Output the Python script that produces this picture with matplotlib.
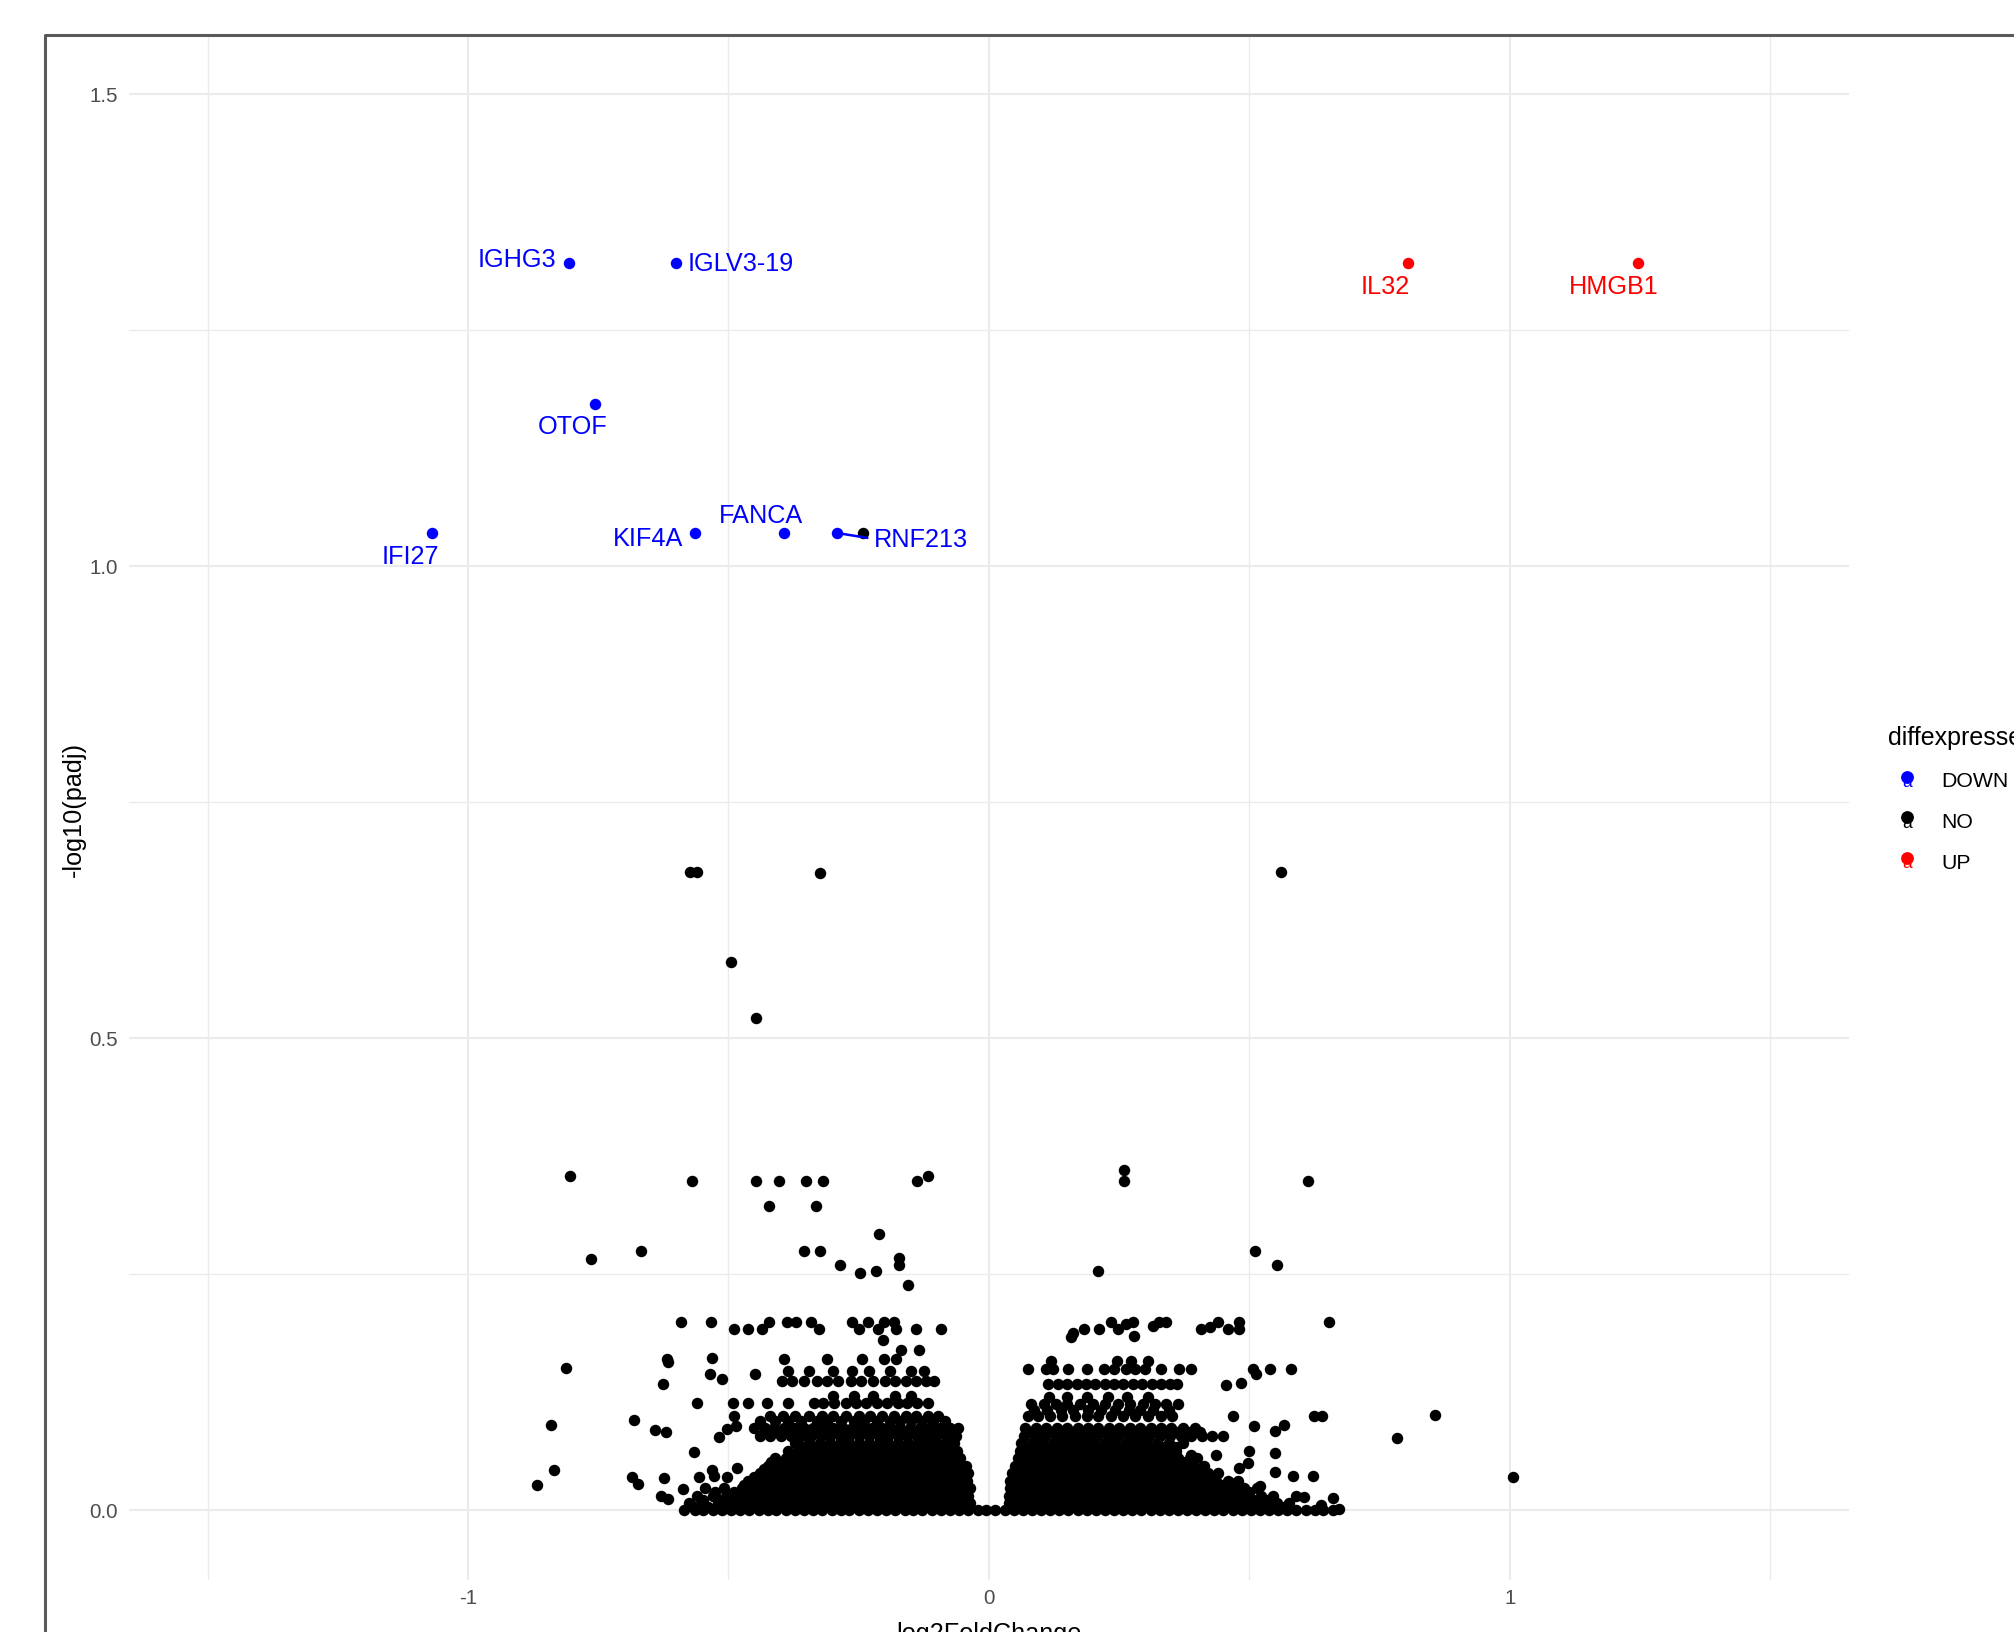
import matplotlib
matplotlib.use('Agg')
import matplotlib.pyplot as plt
from matplotlib.lines import Line2D
from matplotlib.text import Text
from matplotlib.legend_handler import HandlerBase

plt.rcParams['font.family'] = ['Liberation Sans', 'DejaVu Sans']

W, H, DPI = 2015, 1633, 100

# ---------------- data ----------------
up_genes = ['IL32', 'HMGB1']
up_lfc = [0.804, 1.245]
up_nlp = [1.321, 1.321]

down_genes = ['IGHG3', 'IGLV3-19', 'OTOF', 'IFI27', 'KIF4A', 'FANCA', 'RNF213']
down_lfc = [-0.807, -0.601, -0.757, -1.069, -0.565, -0.394, -0.292]
down_nlp = [1.321, 1.321, 1.172, 1.035, 1.035, 1.035, 1.035]

# isolated non-significant genes (lfc, -log10 padj)
ns_out_lfc = [-0.573, -0.560, -0.325, 0.560, -0.495, -0.447,
              -0.804, -0.571, -0.447, -0.404, -0.351, -0.318, -0.138, -0.118,
              -0.422, -0.332, 0.260, 0.260, 0.612,
              -0.212, -0.764, -0.667, -0.355, -0.325, -0.286, -0.247, -0.216, -0.172, -0.172, -0.156,
              0.210, 0.511, 0.552, 0.783, 0.856, 1.006, -0.242,
              # upper-left row ~0.19-0.20
              -0.591, -0.534, -0.489, -0.463, -0.436, -0.422, -0.388, -0.370, -0.342, -0.326,
              -0.262, -0.249, -0.233, -0.214, -0.201, -0.182, -0.179, -0.140, -0.093,
              # upper-right row ~0.19-0.20
              0.157, 0.161, 0.182, 0.212, 0.234, 0.247, 0.263, 0.276, 0.278, 0.314,
              0.327, 0.340, 0.407, 0.425, 0.440, 0.458, 0.479, 0.479, 0.653,
              # left scattered low
              -0.812, -0.617, -0.625, -0.532, -0.535, -0.513, -0.449, -0.841, -0.681, -0.641,
              -0.620, -0.561, -0.566, -0.834, -0.868, -0.686, -0.673, -0.623, -0.630, -0.617,
              -0.588, -0.518, -0.492, -0.463, -0.427, -0.385, -0.489, -0.486, -0.502, -0.532,
              -0.527, -0.502, -0.484, -0.556, -0.618, -0.204,
              # right scattered low
              0.455, 0.484, 0.506, 0.512, 0.540, 0.580, 0.468, 0.509, 0.548, 0.567,
              0.624, 0.640, 0.358, 0.388, 0.436, 0.497, 0.548, 0.548, 0.583, 0.621,
              0.589, 0.605, 0.637, 0.660, 0.672, 0.573, 0.520, 0.480, 0.460, 0.500]
ns_out_nlp = [0.676, 0.676, 0.675, 0.676, 0.580, 0.521,
              0.354, 0.349, 0.349, 0.349, 0.349, 0.349, 0.349, 0.354,
              0.322, 0.322, 0.360, 0.349, 0.349,
              0.292, 0.266, 0.274, 0.274, 0.274, 0.260, 0.251, 0.253, 0.267, 0.260, 0.238,
              0.253, 0.274, 0.260, 0.076, 0.101, 0.035, 1.035,
              0.199, 0.199, 0.192, 0.192, 0.192, 0.199, 0.199, 0.199, 0.199, 0.192,
              0.199, 0.192, 0.199, 0.192, 0.199, 0.199, 0.192, 0.192, 0.192,
              0.183, 0.187, 0.192, 0.192, 0.199, 0.192, 0.197, 0.199, 0.184, 0.195,
              0.199, 0.199, 0.192, 0.194, 0.199, 0.192, 0.199, 0.192, 0.199,
              0.150, 0.157, 0.134, 0.161, 0.144, 0.139, 0.144, 0.090, 0.095, 0.085,
              0.083, 0.113, 0.061, 0.042, 0.027, 0.035, 0.028, 0.034, 0.015, 0.012,
              0.022, 0.077, 0.113, 0.113, 0.113, 0.113, 0.100, 0.089, 0.086, 0.042,
              0.036, 0.035, 0.044, 0.035, 0.160, 0.180,
              0.132, 0.135, 0.149, 0.144, 0.149, 0.149, 0.100, 0.089, 0.084, 0.090,
              0.100, 0.100, 0.063, 0.058, 0.058, 0.050, 0.060, 0.040, 0.036, 0.036,
              0.015, 0.014, 0.005, 0.013, 0.001, 0.005, 0.025, 0.045, 0.030, 0.062]

# genes with padj = 1 (baseline)
base_lfc = [-0.585, -0.565, -0.548, -0.530, -0.512, -0.495, -0.478, -0.460, -0.442, -0.425,
            -0.408, -0.390, -0.372, -0.355, -0.338, -0.320, -0.302, -0.285, -0.268, -0.250,
            -0.232, -0.215, -0.198, -0.180, -0.162, -0.145, -0.128, -0.110, -0.092, -0.075,
            -0.058, -0.040, -0.022, -0.005, 0.012, 0.030, 0.048, 0.065, 0.082, 0.100,
            0.118, 0.135, 0.152, 0.170, 0.188, 0.205, 0.222, 0.240, 0.258, 0.275,
            0.292, 0.310, 0.328, 0.345, 0.362, 0.380, 0.398, 0.415, 0.432, 0.450,
            0.468, 0.485, 0.502, 0.520, 0.538, 0.555, 0.572, 0.590, 0.608, 0.625,
            0.642, 0.660]

# dense bands of non-significant genes, negative fold changes
left_nlp = [0.007, 0.015, 0.023, 0.031, 0.039, 0.047, 0.055, 0.063, 0.071, 0.078,
            0.087, 0.100, 0.113, 0.121, 0.137, 0.147, 0.160, 0.169,
            0.003, 0.011, 0.019, 0.027, 0.035, 0.043, 0.051, 0.059, 0.067, 0.083, 0.094]
left_lfc = [
    [-0.575, -0.550, -0.520, -0.500, -0.478, -0.458, -0.440, -0.420, -0.402, -0.382, -0.365, -0.345,
     -0.328, -0.308, -0.290, -0.272, -0.252, -0.235, -0.215, -0.198, -0.178, -0.160, -0.142, -0.122,
     -0.105, -0.086, -0.068, -0.050, -0.036],
    [-0.560, -0.530, -0.505, -0.485, -0.466, -0.448, -0.430, -0.410, -0.392, -0.373, -0.355, -0.336,
     -0.318, -0.298, -0.280, -0.262, -0.243, -0.225, -0.206, -0.188, -0.170, -0.150, -0.132, -0.114,
     -0.095, -0.077, -0.058, -0.040],
    [-0.545, -0.508, -0.475, -0.456, -0.438, -0.420, -0.400, -0.382, -0.364, -0.345, -0.327, -0.308,
     -0.290, -0.271, -0.252, -0.234, -0.216, -0.197, -0.179, -0.160, -0.142, -0.124, -0.105, -0.087,
     -0.068, -0.050, -0.037],
    [-0.462, -0.445, -0.428, -0.410, -0.391, -0.373, -0.354, -0.336, -0.318, -0.299, -0.281, -0.262,
     -0.244, -0.225, -0.207, -0.188, -0.170, -0.152, -0.133, -0.115, -0.096, -0.078, -0.060, -0.042],
    [-0.440, -0.420, -0.401, -0.383, -0.364, -0.346, -0.327, -0.309, -0.290, -0.272, -0.253, -0.235,
     -0.216, -0.198, -0.180, -0.161, -0.143, -0.124, -0.106, -0.088, -0.069, -0.050, -0.040],
    [-0.425, -0.408, -0.390, -0.372, -0.353, -0.335, -0.316, -0.298, -0.280, -0.261, -0.243, -0.224,
     -0.206, -0.188, -0.169, -0.151, -0.132, -0.114, -0.096, -0.077, -0.058, -0.044],
    [-0.410, -0.390, -0.370, -0.350, -0.332, -0.313, -0.294, -0.275, -0.257, -0.238, -0.220, -0.201,
     -0.183, -0.165, -0.146, -0.128, -0.110, -0.091, -0.073, -0.055],
    [-0.385, -0.360, -0.340, -0.318, -0.300, -0.282, -0.262, -0.244, -0.225, -0.205, -0.188, -0.168,
     -0.150, -0.130, -0.112, -0.093, -0.075, -0.062],
    [-0.372, -0.345, -0.325, -0.305, -0.286, -0.268, -0.249, -0.230, -0.212, -0.193, -0.175, -0.156,
     -0.137, -0.118, -0.100, -0.082, -0.068],
    [-0.440, -0.420, -0.400, -0.380, -0.360, -0.342, -0.323, -0.305, -0.286, -0.268, -0.249, -0.231,
     -0.212, -0.194, -0.175, -0.157, -0.138, -0.120, -0.101, -0.083, -0.064],
    [-0.452, -0.430, -0.412, -0.393, -0.375, -0.356, -0.337, -0.318, -0.300, -0.281, -0.262, -0.244,
     -0.225, -0.206, -0.188, -0.170, -0.151, -0.132, -0.114, -0.095, -0.075, -0.060],
    [-0.420, -0.395, -0.372, -0.345, -0.320, -0.300, -0.275, -0.250, -0.228, -0.205, -0.182, -0.160,
     -0.140, -0.118, -0.098],
    [-0.335, -0.318, -0.298, -0.275, -0.255, -0.236, -0.215, -0.196, -0.175, -0.158, -0.138, -0.118],
    [-0.300, -0.260, -0.222, -0.180, -0.150],
    [-0.398, -0.378, -0.355, -0.330, -0.310, -0.290, -0.265, -0.245, -0.222, -0.200, -0.180, -0.160,
     -0.140, -0.120, -0.105],
    [-0.385, -0.345, -0.300, -0.262, -0.230, -0.190, -0.150, -0.125],
    [-0.394, -0.310, -0.243, -0.201, -0.178],
    [-0.169, -0.134],
    [-0.566, -0.540, -0.512, -0.490, -0.468, -0.449, -0.430, -0.411, -0.392, -0.373, -0.355, -0.336,
     -0.318, -0.299, -0.281, -0.262, -0.244, -0.225, -0.206, -0.188, -0.169, -0.151, -0.132, -0.113,
     -0.095, -0.077, -0.059, -0.043],
    [-0.548, -0.518, -0.494, -0.475, -0.457, -0.439, -0.420, -0.401, -0.383, -0.364, -0.346, -0.327,
     -0.308, -0.289, -0.271, -0.253, -0.234, -0.216, -0.197, -0.179, -0.160, -0.141, -0.123, -0.104,
     -0.086, -0.067, -0.049],
    [-0.525, -0.490, -0.466, -0.447, -0.429, -0.410, -0.391, -0.373, -0.354, -0.336, -0.317, -0.299,
     -0.280, -0.262, -0.243, -0.225, -0.206, -0.188, -0.169, -0.151, -0.132, -0.114, -0.096, -0.077,
     -0.059, -0.044],
    [-0.470, -0.452, -0.436, -0.419, -0.400, -0.382, -0.363, -0.345, -0.327, -0.308, -0.290, -0.271,
     -0.253, -0.234, -0.216, -0.197, -0.179, -0.161, -0.142, -0.124, -0.105, -0.087, -0.069, -0.051],
    [-0.452, -0.436, -0.419, -0.400, -0.382, -0.364, -0.345, -0.327, -0.308, -0.290, -0.271, -0.253,
     -0.234, -0.216, -0.198, -0.179, -0.161, -0.142, -0.124, -0.105, -0.087, -0.069, -0.051],
    [-0.432, -0.414, -0.396, -0.378, -0.359, -0.341, -0.322, -0.304, -0.286, -0.267, -0.249, -0.230,
     -0.212, -0.194, -0.175, -0.157, -0.138, -0.120, -0.102, -0.083, -0.065, -0.050],
    [-0.418, -0.399, -0.380, -0.361, -0.341, -0.322, -0.304, -0.285, -0.266, -0.248, -0.229, -0.211,
     -0.192, -0.174, -0.156, -0.137, -0.119, -0.101, -0.082, -0.064],
    [-0.372, -0.350, -0.329, -0.309, -0.291, -0.272, -0.253, -0.234, -0.215, -0.196, -0.178, -0.159,
     -0.140, -0.121, -0.102, -0.084, -0.068],
    [-0.358, -0.335, -0.315, -0.296, -0.277, -0.258, -0.239, -0.221, -0.202, -0.184, -0.165, -0.146,
     -0.127, -0.109, -0.091, -0.075],
    [-0.430, -0.410, -0.390, -0.370, -0.351, -0.332, -0.314, -0.295, -0.277, -0.258, -0.240, -0.221,
     -0.203, -0.184, -0.166, -0.147, -0.129, -0.110, -0.092, -0.073],
    [-0.440, -0.410, -0.385, -0.360, -0.330, -0.310, -0.285, -0.260, -0.240, -0.215, -0.190, -0.170,
     -0.150, -0.128, -0.108, -0.085],
]

# dense bands of non-significant genes, positive fold changes
right_nlp = [0.007, 0.015, 0.023, 0.031, 0.039, 0.047, 0.055, 0.063, 0.071, 0.078,
             0.087, 0.100, 0.112, 0.120, 0.134, 0.149, 0.158,
             0.003, 0.011, 0.019, 0.027, 0.035, 0.043, 0.051, 0.059, 0.067, 0.083, 0.106]
right_lfc = [
    [0.038, 0.052, 0.066, 0.084, 0.102, 0.120, 0.138, 0.156, 0.174, 0.192, 0.210, 0.228, 0.246,
     0.264, 0.282, 0.300, 0.318, 0.336, 0.354, 0.372, 0.390, 0.408, 0.426, 0.444, 0.462, 0.480,
     0.498, 0.516, 0.534, 0.552, 0.575],
    [0.039, 0.055, 0.070, 0.086, 0.104, 0.122, 0.140, 0.158, 0.176, 0.194, 0.212, 0.230, 0.248,
     0.266, 0.284, 0.302, 0.320, 0.338, 0.356, 0.374, 0.392, 0.410, 0.428, 0.446, 0.464, 0.482,
     0.500, 0.522, 0.545],
    [0.040, 0.056, 0.072, 0.090, 0.108, 0.126, 0.144, 0.162, 0.180, 0.198, 0.216, 0.234, 0.252,
     0.270, 0.288, 0.306, 0.324, 0.342, 0.360, 0.378, 0.396, 0.414, 0.432, 0.450, 0.468, 0.490,
     0.515],
    [0.041, 0.057, 0.074, 0.092, 0.110, 0.128, 0.146, 0.164, 0.182, 0.200, 0.218, 0.236, 0.254,
     0.272, 0.290, 0.308, 0.326, 0.344, 0.362, 0.380, 0.398, 0.416, 0.436, 0.458, 0.478],
    [0.045, 0.060, 0.078, 0.096, 0.114, 0.132, 0.150, 0.168, 0.186, 0.204, 0.222, 0.240, 0.258,
     0.276, 0.294, 0.312, 0.330, 0.348, 0.366, 0.384, 0.402, 0.420, 0.440],
    [0.050, 0.068, 0.086, 0.104, 0.122, 0.140, 0.158, 0.176, 0.194, 0.212, 0.230, 0.248, 0.266,
     0.284, 0.302, 0.320, 0.338, 0.356, 0.374, 0.392, 0.412],
    [0.055, 0.074, 0.092, 0.110, 0.128, 0.146, 0.164, 0.182, 0.200, 0.218, 0.236, 0.254, 0.272,
     0.290, 0.308, 0.326, 0.344, 0.362, 0.385, 0.400],
    [0.060, 0.080, 0.100, 0.120, 0.138, 0.156, 0.175, 0.195, 0.214, 0.233, 0.252, 0.270, 0.290,
     0.310, 0.330, 0.356],
    [0.062, 0.082, 0.102, 0.122, 0.142, 0.162, 0.182, 0.202, 0.222, 0.242, 0.262, 0.282, 0.302,
     0.322, 0.345, 0.372],
    [0.068, 0.088, 0.108, 0.128, 0.148, 0.168, 0.188, 0.208, 0.228, 0.248, 0.268, 0.288, 0.308,
     0.328, 0.348, 0.368, 0.388, 0.408, 0.428, 0.450],
    [0.070, 0.090, 0.110, 0.130, 0.150, 0.170, 0.190, 0.210, 0.230, 0.250, 0.270, 0.290, 0.310,
     0.330, 0.350, 0.372, 0.395],
    [0.074, 0.095, 0.118, 0.140, 0.165, 0.188, 0.210, 0.235, 0.258, 0.280, 0.305, 0.330, 0.352],
    [0.080, 0.105, 0.128, 0.150, 0.175, 0.200, 0.222, 0.248, 0.270, 0.295, 0.318, 0.340, 0.362],
    [0.116, 0.150, 0.188, 0.228, 0.265, 0.305],
    [0.114, 0.132, 0.150, 0.168, 0.186, 0.204, 0.222, 0.240, 0.258, 0.276, 0.294, 0.312, 0.330,
     0.348, 0.360],
    [0.074, 0.110, 0.122, 0.151, 0.188, 0.220, 0.240, 0.262, 0.280, 0.300, 0.330, 0.365, 0.388],
    [0.119, 0.245, 0.272, 0.305],
    [0.045, 0.060, 0.075, 0.093, 0.111, 0.129, 0.147, 0.165, 0.183, 0.201, 0.219, 0.237, 0.255,
     0.273, 0.291, 0.309, 0.327, 0.345, 0.363, 0.381, 0.399, 0.417, 0.435, 0.453, 0.471, 0.489,
     0.507, 0.525, 0.543, 0.562],
    [0.046, 0.062, 0.077, 0.095, 0.113, 0.131, 0.149, 0.167, 0.185, 0.203, 0.221, 0.239, 0.257,
     0.275, 0.293, 0.311, 0.329, 0.347, 0.365, 0.383, 0.401, 0.419, 0.437, 0.455, 0.473, 0.491,
     0.510, 0.533],
    [0.047, 0.063, 0.079, 0.097, 0.115, 0.133, 0.151, 0.169, 0.187, 0.205, 0.223, 0.241, 0.259,
     0.277, 0.295, 0.313, 0.331, 0.349, 0.367, 0.385, 0.403, 0.421, 0.439, 0.457, 0.476, 0.500],
    [0.048, 0.065, 0.083, 0.101, 0.119, 0.137, 0.155, 0.173, 0.191, 0.209, 0.227, 0.245, 0.263,
     0.281, 0.299, 0.317, 0.335, 0.353, 0.371, 0.389, 0.407, 0.425, 0.446, 0.466],
    [0.050, 0.069, 0.087, 0.105, 0.123, 0.141, 0.159, 0.177, 0.195, 0.213, 0.231, 0.249, 0.267,
     0.285, 0.303, 0.321, 0.339, 0.357, 0.375, 0.393, 0.411, 0.430],
    [0.058, 0.077, 0.095, 0.113, 0.131, 0.149, 0.167, 0.185, 0.203, 0.221, 0.239, 0.257, 0.275,
     0.293, 0.311, 0.329, 0.347, 0.365, 0.383, 0.402],
    [0.064, 0.083, 0.101, 0.119, 0.137, 0.155, 0.173, 0.191, 0.209, 0.227, 0.245, 0.263, 0.281,
     0.299, 0.317, 0.335, 0.353, 0.372, 0.392],
    [0.070, 0.090, 0.110, 0.129, 0.147, 0.166, 0.185, 0.205, 0.224, 0.243, 0.261, 0.280, 0.300,
     0.320, 0.342],
    [0.072, 0.092, 0.112, 0.132, 0.152, 0.172, 0.192, 0.212, 0.232, 0.252, 0.272, 0.292, 0.312,
     0.334, 0.358],
    [0.080, 0.100, 0.120, 0.140, 0.160, 0.180, 0.200, 0.220, 0.240, 0.260, 0.280, 0.300, 0.320,
     0.340, 0.360, 0.382, 0.405],
    [0.086, 0.112, 0.138, 0.162, 0.190, 0.215, 0.242, 0.268, 0.290, 0.315, 0.345],
]

x_ticks = [-1, 0, 1]
y_ticks = [0.0, 0.5, 1.0, 1.5]
y_tick_labels = ['0.0', '0.5', '1.0', '1.5']
legend_levels = ['DOWN', 'NO', 'UP']

# ---------------- styling / layout ----------------
COL = {'DOWN': '#0000FF', 'NO': '#000000', 'UP': '#FF0000'}
PT_SIZE = 68
# label placement: (dx, dy) in points, horizontal alignment
down_label_pos = [(-8.9, -2.2, 'right'), (8.6, -5.0, 'left'), (-15.6, -20.9, 'center'),
                  (-15.8, -21.6, 'center'), (-7.9, -8.6, 'right'), (-16.6, 7.9, 'center'),
                  (26.9, -9.4, 'left')]
up_label_pos = [(-16.2, -21.6, 'center'), (-17.1, -21.6, 'center')]

# assemble NO series
ns_lfc = list(base_lfc)
ns_nlp = [0.0] * len(base_lfc)
for yv, xs in zip(left_nlp, left_lfc):
    ns_lfc += xs
    ns_nlp += [yv] * len(xs)
for yv, xs in zip(right_nlp, right_lfc):
    ns_lfc += xs
    ns_nlp += [yv] * len(xs)
ns_lfc += ns_out_lfc
ns_nlp += ns_out_nlp

fig = plt.figure(figsize=(W / DPI, H / DPI), dpi=DPI, facecolor='white')
px_l, px_r, px_t, px_b = 129.3, 1848.7, 37.0, 1581.0
ax = fig.add_axes([px_l / W, 1 - px_b / H, (px_r - px_l) / W, (px_b - px_t) / H])
ax.set_facecolor('white')

x0_px, ux = 989.0, 521.0
y0_px, uy = 1511.0, 944.0
ax.set_xlim((px_l - x0_px) / ux, (px_r - x0_px) / ux)
ax.set_ylim((y0_px - px_b) / uy, (y0_px - px_t) / uy)

ax.set_xticks(x_ticks)
ax.set_xticklabels([str(t) for t in x_ticks])
ax.set_yticks(y_ticks)
ax.set_yticklabels(y_tick_labels)
ax.set_xticks([-1.5, -0.5, 0.5, 1.5], minor=True)
ax.set_yticks([0.25, 0.75, 1.25], minor=True)
ax.grid(which='major', color='#EBEBEB', lw=1.5, zorder=0)
ax.grid(which='minor', color='#EBEBEB', lw=1.0, zorder=0)
ax.set_axisbelow(True)
ax.tick_params(which='both', length=0, labelsize=14.8, labelcolor='#4D4D4D')
ax.tick_params(axis='x', pad=5.5)
ax.tick_params(axis='y', pad=8.0)
for s in ax.spines.values():
    s.set_visible(False)

ax.scatter(ns_lfc, ns_nlp, s=PT_SIZE, c=COL['NO'], linewidths=0, zorder=2)
ax.scatter(down_lfc, down_nlp, s=PT_SIZE, c=COL['DOWN'], linewidths=0, zorder=3)
ax.scatter(up_lfc, up_nlp, s=PT_SIZE, c=COL['UP'], linewidths=0, zorder=3)

for g, xv, yv, (dx, dy, ha) in zip(down_genes, down_lfc, down_nlp, down_label_pos):
    kw = {}
    if g == 'RNF213':
        kw['arrowprops'] = dict(arrowstyle='-', color=COL['DOWN'], lw=1.8,
                                shrinkA=3, shrinkB=0, relpos=(0, 0.5))
    ax.annotate(g, (xv, yv), xytext=(dx, dy), textcoords='offset points',
                ha=ha, va='baseline', fontsize=18.2, color=COL['DOWN'], zorder=4, **kw)
for g, xv, yv, (dx, dy, ha) in zip(up_genes, up_lfc, up_nlp, up_label_pos):
    ax.annotate(g, (xv, yv), xytext=(dx, dy), textcoords='offset points',
                ha=ha, va='baseline', fontsize=18.2, color=COL['UP'], zorder=4)

ax.set_xlabel('log2FoldChange', fontsize=18.2, color='black', va='top')
ax.xaxis.set_label_coords(0.5, (px_b - 1622.0) / (px_b - px_t))
ax.set_ylabel('-log10(padj)', fontsize=18.2, color='black', va='center')
ax.yaxis.set_label_coords((73.5 - px_l) / (px_r - px_l), 0.5)


class DotA(HandlerBase):
    def create_artists(self, legend, orig_handle, xdescent, ydescent, width, height,
                       fontsize, trans):
        c = orig_handle.get_color()
        cx = 0.5 * width - xdescent
        cy = 0.5 * height - ydescent
        dot = Line2D([cx], [cy + 1.5], marker='o', ms=8.2, color=c, ls='none',
                     transform=trans)
        txt = Text(cx, cy - 2.0, 'a', color=c, fontsize=12.5, ha='center', va='center',
                   transform=trans)
        return [dot, txt]


handles = [Line2D([], [], color=COL[k]) for k in legend_levels]
leg = ax.legend(handles, legend_levels, title='diffexpressed',
                handler_map={Line2D: DotA()},
                loc='upper left', bbox_to_anchor=(1888 / W, 1 - 726.5 / H),
                bbox_transform=fig.transFigure, frameon=False,
                borderpad=0, borderaxespad=0, fontsize=15.3, title_fontsize=18,
                handlelength=1.8, handletextpad=0.70, labelspacing=1.02,
                alignment='left')
for t in leg.get_texts():
    t.set_color('black')

# screenshot frame (top and left border)
fig.add_artist(Line2D([45.5 / W, 45.5 / W, 1.0], [0.0, 1 - 35.5 / H, 1 - 35.5 / H],
                      transform=fig.transFigure, color='#5A5A5A', lw=2.2))

fig.savefig('out.png', dpi=DPI, facecolor='white')
